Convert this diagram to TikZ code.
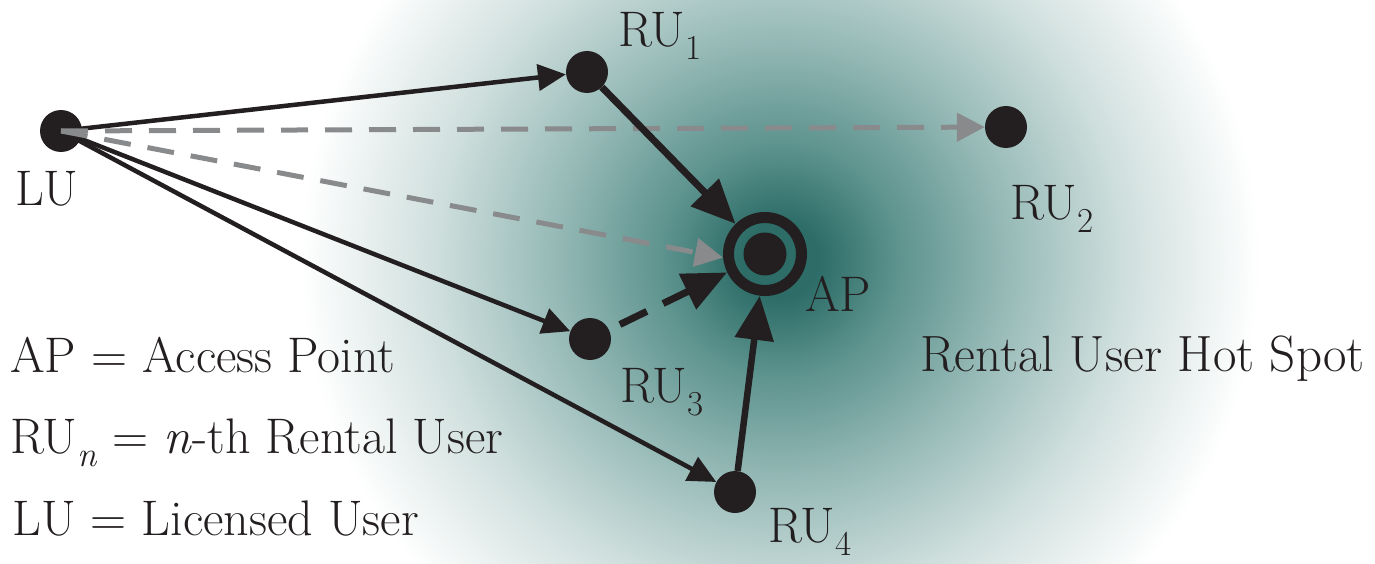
\documentclass[tikz,border=0pt]{standalone}
\usetikzlibrary{arrows.meta}
\definecolor{dk}{HTML}{231F20}
\definecolor{gr}{HTML}{898A8C}
\definecolor{hsA}{RGB}{45,108,103}
\definecolor{hsB}{RGB}{92,146,141}
\definecolor{hsC}{RGB}{152,187,184}
\definecolor{hsD}{RGB}{207,223,221}
\pgfdeclareradialshading{hotspot}{\pgfpoint{0bp}{0bp}}{color(0bp)=(hsA); color(2bp)=(hsA); color(6bp)=(hsB); color(12bp)=(hsC); color(18bp)=(hsD); color(25bp)=(white); color(50bp)=(white)}
\newcommand\sbx[1]{\raisebox{-13pt}{\fontsize{35}{35}\selectfont #1}}
\begin{document}
\begin{tikzpicture}[x=1pt,y=-1pt,
  dot/.style={circle,fill=dk,inner sep=0pt,minimum size=42pt},
  lbl/.style={anchor=base west,inner sep=0pt,text=dk,font=\rmfamily\fontsize{50}{60}\selectfont},
  leg/.style={anchor=base west,inner sep=0pt,text=dk,font=\rmfamily\fontsize{50}{60}\selectfont},
  lua/.style={draw=dk,line width=4.5pt,-{Triangle[length=28pt,width=26pt]}},
  gda/.style={draw=gr,line width=5pt,dash pattern=on 27pt off 17pt,-{Triangle[length=28pt,width=28pt]}},
  apa/.style={draw=dk,line width=7pt,-{Triangle[length=44pt,width=38pt]}},
]
\useasboundingbox (0,0) rectangle (1375,564);
\begin{scope}
\clip (0,0) rectangle (1375,564);
\shade[shading=hotspot] (780,260) ellipse [x radius=480pt, y radius=470pt];
\end{scope}
\node[dot] (LU) at (61,131) {};
\node[dot] (RU1) at (587,72) {};
\node[dot] (RU2) at (1006,127) {};
\node[dot] (RU3) at (590,339) {};
\node[dot] (RU4) at (735,492) {};
\node[circle,inner sep=0pt,minimum size=84pt] (AP) at (765,254) {};
\draw[dk,line width=11pt] (AP.center) circle [radius=36.5pt];
\fill[dk] (AP.center) circle [radius=21.5pt];
\draw[lua] (LU.center) -- (RU1);
\draw[lua] (LU.center) -- (RU3);
\draw[lua] (LU.center) -- (RU4);
\draw[gda] (LU.center) -- (RU2);
\draw[gda] (LU.center) -- (AP.185);
\draw[apa] (RU1) -- (AP);
\draw[apa,line width=6.5pt] (RU4) -- (AP);
\draw[apa,dash pattern=on 30pt off 18pt,dash phase=36pt] (RU3) -- (AP);
\node[lbl] (LUl) at (15,205) {LU};
\node[lbl] (RU1l) at (618,47) {RU\sbx{1}};
\node[lbl] (RU2l) at (1010,219) {RU\sbx{2}};
\node[lbl] (RU3l) at (620,402) {RU\sbx{3}};
\node[lbl] (RU4l) at (768,542) {RU\sbx{4}};
\node[lbl] (APl) at (805,311) {AP};
\node[leg,font=\rmfamily\fontsize{51}{60}\selectfont] (hs) at (920,371) {Rental User Hot Spot};
\node[leg] (l1) at (10,372) {AP = Access Point};
\node[leg] (l2) at (10,453) {RU\sbx{\textit{n}} = \textit{n}-th Rental User};
\node[leg] (l3) at (12,535) {LU = Licensed User};
\end{tikzpicture}
\end{document}
